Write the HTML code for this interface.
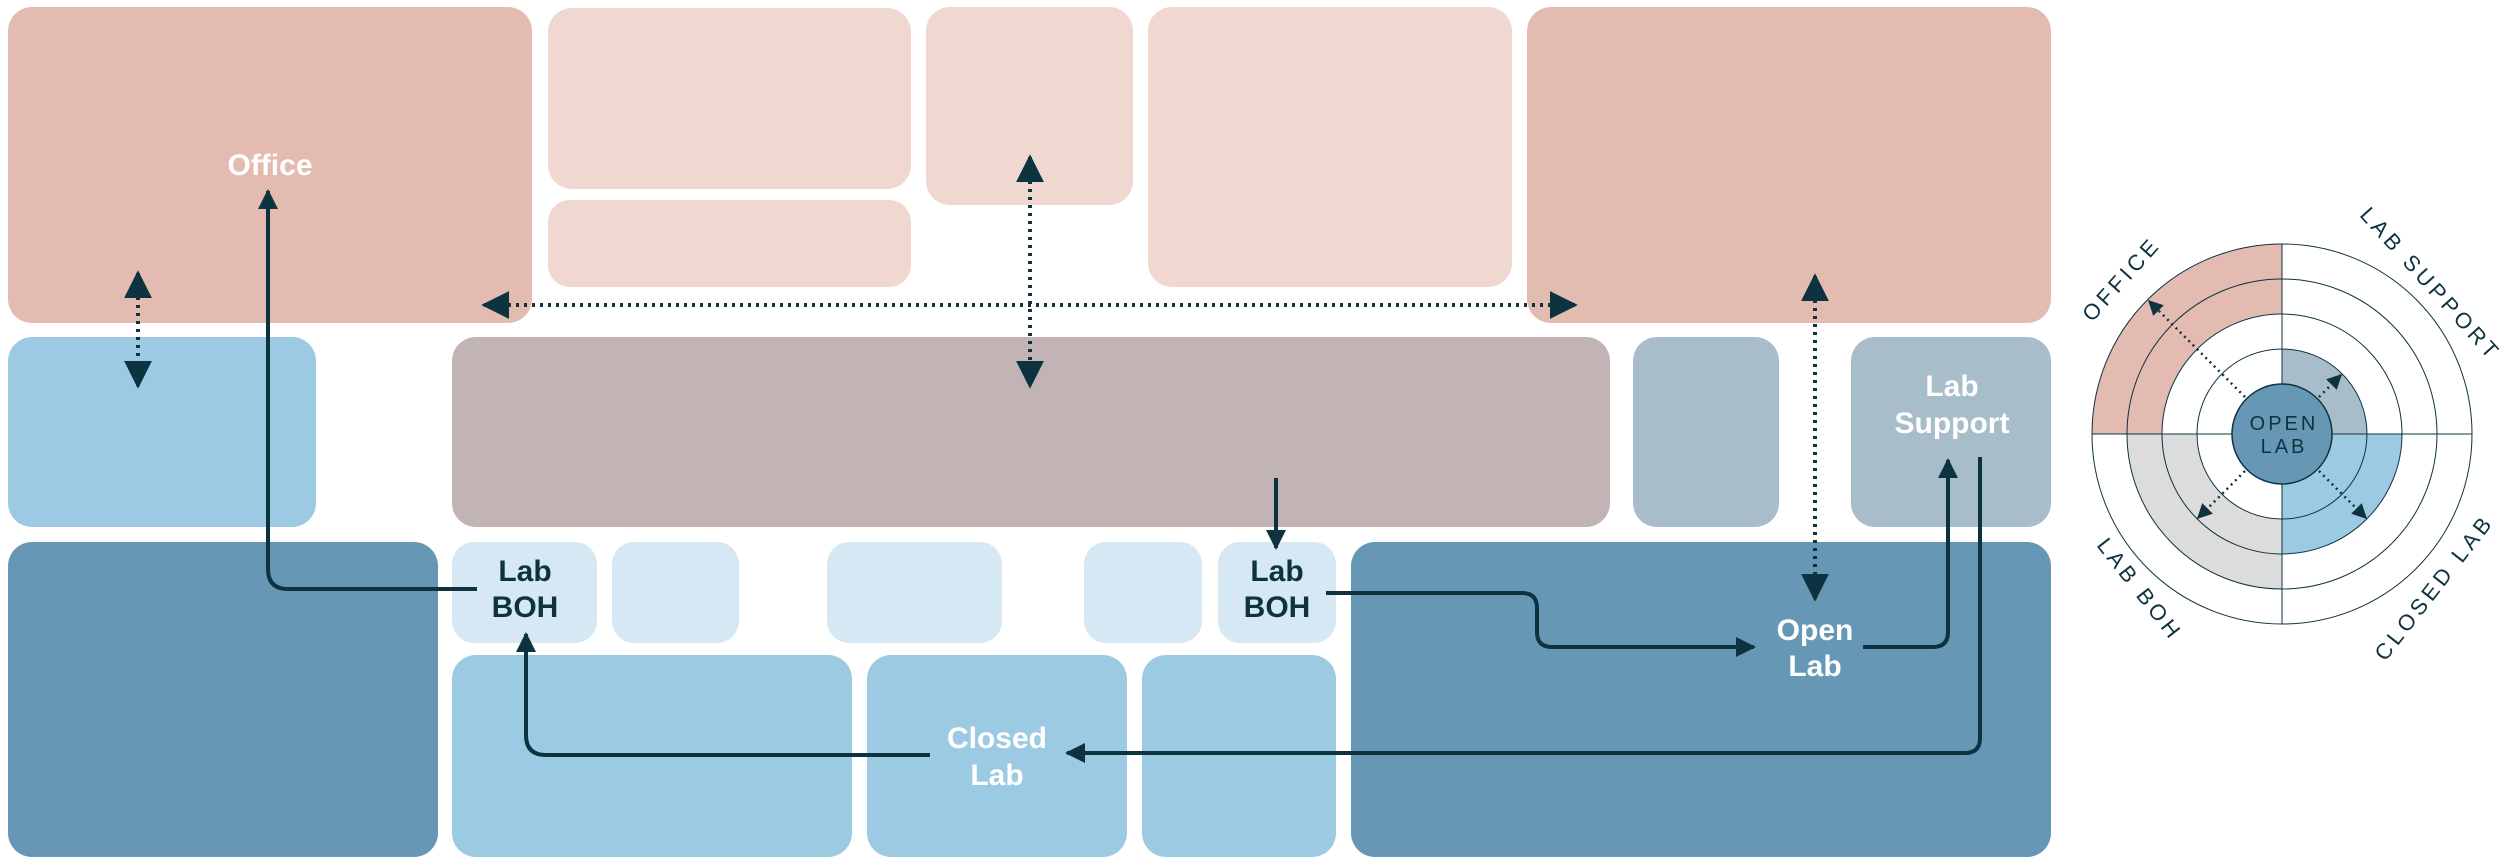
<!DOCTYPE html>
<html><head><meta charset="utf-8"><style>
html,body{margin:0;padding:0;background:#fff;}
svg{display:block;}
text{font-family:"Liberation Sans",sans-serif;}
</style></head><body>
<svg width="2500" height="865" viewBox="0 0 2500 865" xmlns="http://www.w3.org/2000/svg">
<defs>
<marker id="ah" viewBox="0 0 10 10" refX="9" refY="5" markerWidth="5" markerHeight="5" markerUnits="strokeWidth" orient="auto-start-reverse"><path d="M0,0 L10,5 L0,10 z" fill="#0e3340"/></marker>
<marker id="ad" viewBox="0 0 10 10" refX="9" refY="5" markerWidth="7" markerHeight="7" markerUnits="strokeWidth" orient="auto-start-reverse"><path d="M0,0 L10,5 L0,10 z" fill="#0e3340"/></marker>
<marker id="as" viewBox="0 0 10 10" refX="9" refY="5" markerWidth="6" markerHeight="6" markerUnits="strokeWidth" orient="auto-start-reverse"><path d="M0,0 L10,5 L0,10 z" fill="#0e3340"/></marker>
</defs>
<!-- boxes -->
<rect x="8" y="7" width="524" height="316" rx="24" fill="#e3bbb0"/>
<rect x="548" y="8" width="363" height="181" rx="24" fill="#f0d7d0"/>
<rect x="548" y="200" width="363" height="87" rx="22" fill="#f0d7d0"/>
<rect x="926" y="7" width="207" height="198" rx="24" fill="#f0d7d0"/>
<rect x="1148" y="7" width="364" height="280" rx="24" fill="#f0d7d0"/>
<rect x="1527" y="7" width="524" height="316" rx="24" fill="#e3bbb0"/>
<rect x="8" y="337" width="308" height="190" rx="24" fill="#9dcae3"/>
<rect x="452" y="337" width="1158" height="190" rx="24" fill="#c2b4b4"/>
<rect x="1633" y="337" width="146" height="190" rx="24" fill="#a8bdca"/>
<rect x="1851" y="337" width="200" height="190" rx="24" fill="#a8bdca"/>
<rect x="8" y="542" width="430" height="315" rx="24" fill="#6698b5"/>
<rect x="452" y="542" width="145" height="101" rx="22" fill="#d6e8f4"/>
<rect x="612" y="542" width="127" height="101" rx="22" fill="#d6e8f4"/>
<rect x="827" y="542" width="175" height="101" rx="22" fill="#d6e8f4"/>
<rect x="1084" y="542" width="118" height="101" rx="22" fill="#d6e8f4"/>
<rect x="1218" y="542" width="118" height="101" rx="22" fill="#d6e8f4"/>
<rect x="452" y="655" width="400" height="202" rx="24" fill="#9dcae3"/>
<rect x="867" y="655" width="260" height="202" rx="24" fill="#9dcae3"/>
<rect x="1142" y="655" width="194" height="202" rx="24" fill="#9dcae3"/>
<rect x="1351" y="542" width="700" height="315" rx="24" fill="#6698b5"/>
<!-- labels -->
<g font-size="30" text-anchor="middle" font-weight="bold">
<text x="270" y="175" fill="#fff">Office</text>
<text x="525" y="581" fill="#0e3340">Lab</text>
<text x="525" y="617" fill="#0e3340">BOH</text>
<text x="1277" y="581" fill="#0e3340">Lab</text>
<text x="1277" y="617" fill="#0e3340">BOH</text>
<text x="997" y="748" fill="#fff">Closed</text>
<text x="997" y="785" fill="#fff">Lab</text>
<text x="1815" y="640" fill="#fff">Open</text>
<text x="1815" y="676" fill="#fff">Lab</text>
<text x="1952" y="396" fill="#fff">Lab</text>
<text x="1952" y="433" fill="#fff">Support</text>
</g>
<!-- solid connectors -->
<g fill="none" stroke="#0e3340" stroke-width="4">
<path d="M477,589 H288 Q268,589 268,569 V191" marker-end="url(#ah)"/>
<path d="M930,755 H546 Q526,755 526,735 V634" marker-end="url(#ah)"/>
<path d="M1276,478 V548" marker-end="url(#ah)"/>
<path d="M1326,593 H1522 Q1537,593 1537,608 V632 Q1537,647 1552,647 H1754" marker-end="url(#ah)"/>
<path d="M1863,647 H1933 Q1948,647 1948,632 V460" marker-end="url(#ah)"/>
<path d="M1980,457 V738 Q1980,753 1965,753 H1067" marker-end="url(#ah)"/>
</g>
<!-- dotted connectors -->
<g fill="none" stroke="#0e3340" stroke-width="4" stroke-dasharray="3,5">
<path d="M138,273 V386" marker-start="url(#ad)" marker-end="url(#ad)"/>
<path d="M484,305 H1575" marker-start="url(#ad)" marker-end="url(#ad)"/>
<path d="M1030,157 V386" marker-start="url(#ad)" marker-end="url(#ad)"/>
<path d="M1815,276 V599" marker-start="url(#ad)" marker-end="url(#ad)"/>
</g>
<!-- radial chart -->
<g transform="translate(2282,434)">
<path d="M-190,0 A190,190 0 0 1 0,-190 V-120 A120,120 0 0 0 -120,0 Z" fill="#e3bbb0"/>
<path d="M0,-85 A85,85 0 0 1 85,0 H0 Z" fill="#a8bdca"/>
<path d="M120,0 A120,120 0 0 1 0,120 V0 Z" fill="#9dcae3"/>
<path d="M-155,0 A155,155 0 0 0 0,155 V85 A85,85 0 0 1 -85,0 Z" fill="#dcdcdc"/>
<g fill="none" stroke="#0e3340" stroke-width="1">
<circle r="190"/><circle r="155"/><circle r="120"/><circle r="85"/>
<line x1="-190" y1="0" x2="190" y2="0"/><line x1="0" y1="-190" x2="0" y2="190"/>
</g>
<circle r="50" fill="#6698b5" stroke="#0e3340" stroke-width="1.5"/>
<g font-size="20" text-anchor="middle" fill="#0e3340" letter-spacing="3">
<text x="2" y="-4">OPEN</text><text x="2" y="19">LAB</text>
</g>
<g fill="none" stroke="#0e3340" stroke-width="2.5" stroke-dasharray="2,4">
<path d="M-37,-37 L-133,-133" marker-end="url(#as)"/>
<path d="M37,-37 L59,-59" marker-end="url(#as)"/>
<path d="M-37,37 L-84,84" marker-end="url(#as)"/>
<path d="M37,37 L84,84" marker-end="url(#as)"/>
</g>
<g font-size="22" fill="#0e3340" text-anchor="middle" letter-spacing="4">
<text transform="translate(-155,-150) rotate(-48)">OFFICE</text>
<text transform="translate(143,-145) rotate(48)">LAB SUPPORT</text>
<text transform="translate(-148,160) rotate(52)">LAB BOH</text>
<text transform="translate(158,158) rotate(-52)">CLOSED LAB</text>
</g>
</g>
</svg>
</body></html>
